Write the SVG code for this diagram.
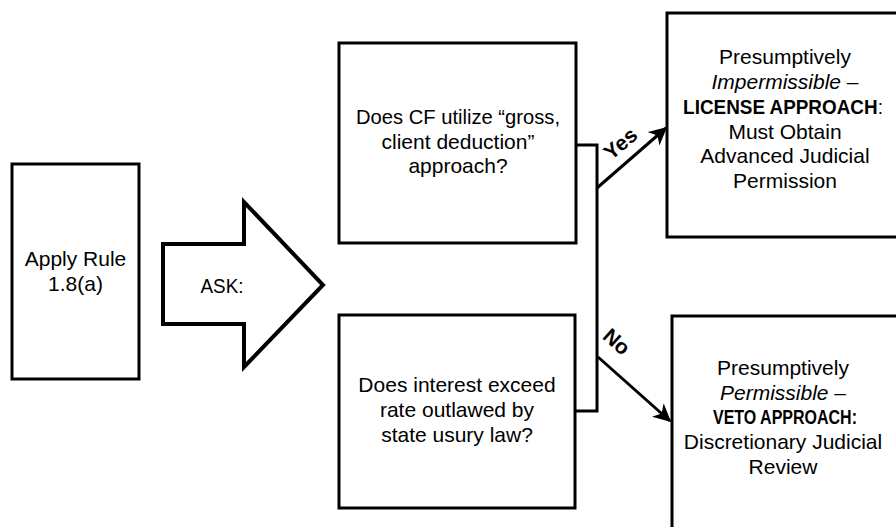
<svg xmlns="http://www.w3.org/2000/svg" width="896" height="527" viewBox="0 0 896 527">
<defs>
<style>
.box{fill:#fff;stroke:#000;stroke-width:3}
.t{font-family:"Liberation Sans",Arial,sans-serif;font-size:21px;fill:#000;text-anchor:middle}
.b{font-weight:bold}
.i{font-style:italic}
.conn{fill:none;stroke:#000;stroke-width:3}
.lbl{font-family:"Liberation Sans",Arial,sans-serif;font-size:21px;font-weight:bold;fill:#000;text-anchor:middle}
</style>
<marker id="ah" viewBox="0 0 12 12" refX="11" refY="6" markerWidth="6" markerHeight="6" markerUnits="strokeWidth" orient="auto">
<path d="M0,0 L12,6 L0,12 L3.5,6 z" fill="#000"/>
</marker>
</defs>
<rect width="896" height="527" fill="#fff"/>
<g id="apply">
<rect class="box" x="12" y="164" width="127" height="215"/>
<text class="t" x="75.5" y="266">Apply Rule</text>
<text class="t" x="75.5" y="291">1.8(a)</text>
</g>
<g id="ask">
<polygon points="163,244 244,244 244,202 323,285 244,367 244,324 163,324" fill="#fff" stroke="#000" stroke-width="4" stroke-linejoin="miter"/>
<text class="t" x="222" y="293" textLength="43" lengthAdjust="spacingAndGlyphs">ASK:</text>
</g>
<g id="q1">
<rect class="box" x="339" y="43" width="237" height="200"/>
<text class="t" x="458" y="124" textLength="204" lengthAdjust="spacingAndGlyphs">Does CF utilize “gross,</text>
<text class="t" x="458" y="149">client deduction”</text>
<text class="t" x="458" y="173">approach?</text>
</g>
<g id="q2">
<rect class="box" x="339" y="315" width="236" height="193"/>
<text class="t" x="457" y="392">Does interest exceed</text>
<text class="t" x="457" y="417">rate outlawed by</text>
<text class="t" x="457" y="442">state usury law?</text>
</g>
<g id="license">
<rect class="box" x="667" y="13" width="240" height="224"/>
<text class="t" x="785" y="64">Presumptively</text>
<text class="t i" x="785" y="89">Impermissible –</text>
<text class="t" transform="translate(783,114) scale(0.9,1)" x="0" y="0"><tspan class="b">LICENSE APPROACH</tspan>:</text>
<text class="t" x="785" y="139">Must Obtain</text>
<text class="t" x="785" y="163">Advanced Judicial</text>
<text class="t" x="785" y="188">Permission</text>
</g>
<g id="veto">
<rect class="box" x="672" y="316" width="240" height="240"/>
<text class="t" x="783" y="375">Presumptively</text>
<text class="t i" x="783" y="400">Permissible –</text>
<text class="t b" transform="translate(785,424) scale(0.8,1)" x="0" y="0" style="font-size:20px">VETO APPROACH:</text>
<text class="t" x="783" y="449">Discretionary Judicial</text>
<text class="t" x="783" y="474">Review</text>
</g>
<g id="connectors">
<polyline class="conn" points="576,145 597,145 597,411 576,411"/>
<line class="conn" x1="597" y1="188" x2="666" y2="128" marker-end="url(#ah)"/>
<line class="conn" x1="598" y1="357" x2="670" y2="421" marker-end="url(#ah)"/>
<text class="lbl" transform="translate(625,149) rotate(-40)">Yes</text>
<text class="lbl" transform="translate(612,347) rotate(42)">No</text>
</g>
</svg>
